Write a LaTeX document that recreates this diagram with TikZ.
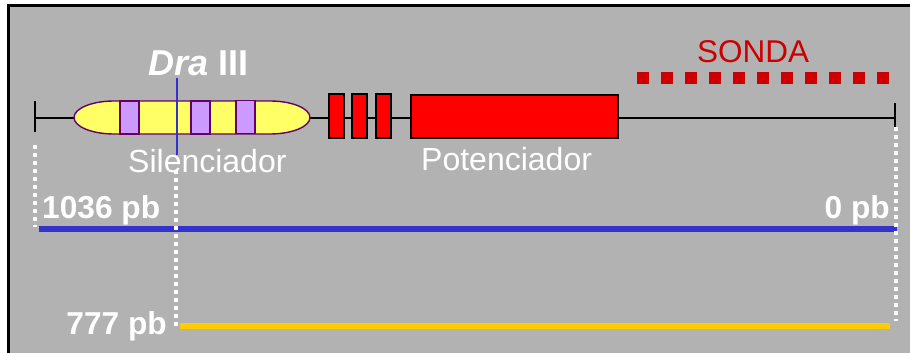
\documentclass[tikz,border=0pt]{standalone}
\usepackage{fontspec}
\setmainfont{Liberation Sans}
\begin{document}
\begin{tikzpicture}[x=1pt,y=-1pt,
  lbl/.style={inner sep=0pt, text=white, font=\fontsize{32}{38}\selectfont},
  lblb/.style={lbl, font=\fontsize{31.7}{38}\selectfont\bfseries},
  redbox/.style={draw=black, line width=1.4pt, fill=red, inner sep=0pt, minimum width=15pt, minimum height=44pt},
  band/.style={draw=capline, line width=1.4pt, fill=bandfill, inner sep=0pt, minimum width=19pt, minimum height=33pt},
  wdots/.style={draw=white, line width=4pt, dash pattern=on 4pt off 4pt}]
\definecolor{bg}{HTML}{B2B2B2}
\definecolor{capline}{HTML}{660066}
\definecolor{capfill}{HTML}{FFFF66}
\definecolor{bandfill}{HTML}{CC99FF}
\definecolor{bluel}{HTML}{3333CC}
\definecolor{yell}{HTML}{FFCC00}
\definecolor{sonda}{HTML}{CC0000}
\useasboundingbox (0,0) rectangle (910,353);
\fill[white] (0,0) rectangle (910,353);
\fill[bg] (8,6) rectangle (912,355);
\draw[black, line width=3pt] (8,355) -- (8,6) -- (912,6);
% main line
\coordinate (L) at (35,118);
\coordinate (R) at (895,118);
\draw[line width=2pt] (L) -- (R);
\draw[line width=2pt] (35,101) -- (35,132);
\draw[line width=2pt] (895,103) -- (895,130);
% capsule (silencer)
\draw[draw=capline, fill=capfill, line width=1.4pt]
  (114,101) -- (270,101) arc[start angle=-90, end angle=90, x radius=40, y radius=16.5]
  -- (114,134) arc[start angle=90, end angle=270, x radius=40, y radius=16.5] -- cycle;
\node[band] (b1) at (129.5,117.5) {};
\node[band] (b2) at (200.5,117.5) {};
\node[band] (b3) at (245.5,117) {};
% red boxes (enhancer)
\node[redbox] (r1) at (336.5,116) {};
\node[redbox] (r2) at (359.5,116) {};
\node[redbox] (r3) at (383.5,116) {};
\node[redbox, minimum width=207pt, minimum height=43pt] (r4) at (514.5,116.5) {};
% Dra III cut
\draw[bluel, line width=1.2pt] (177,78) -- (177,155);
% probe
\draw[sonda, line width=12pt, dash pattern=on 12pt off 12pt] (637,78) -- (889,78);
\node[lbl, text=sonda, font=\fontsize{31.5}{38}\selectfont, anchor=base west] (sonda) at (697,63) {SONDA};
% labels
\node[lblb, font=\fontsize{36}{42}\selectfont\bfseries, anchor=base west] (dra) at (148,76) {\textit{Dra} III};
\node[lbl, anchor=base west] (sil) at (128,172) {Silenciador};
\node[lbl, anchor=base west] (pot) at (421,170) {Potenciador};
\node[lblb, anchor=base west] (l1036) at (42,218) {1036 pb};
\node[lblb, anchor=base east] (l0) at (890,218) {0 pb};
\node[lblb, anchor=base east] (l777) at (167,334) {777 pb};
% fragments
\coordinate (B1) at (39,229);
\coordinate (B2) at (897,229);
\draw[bluel, line width=6pt] (B1) -- (B2);
\coordinate (Y1) at (180,326);
\coordinate (Y2) at (890,326);
\draw[yell, line width=6pt] (Y1) -- (Y2);
% dotted guides
\draw[wdots] (35,145) -- (35,227);
\draw[wdots] (176,170) -- (176,328);
\draw[wdots] (896,127) -- (896,321);
\end{tikzpicture}
\end{document}
